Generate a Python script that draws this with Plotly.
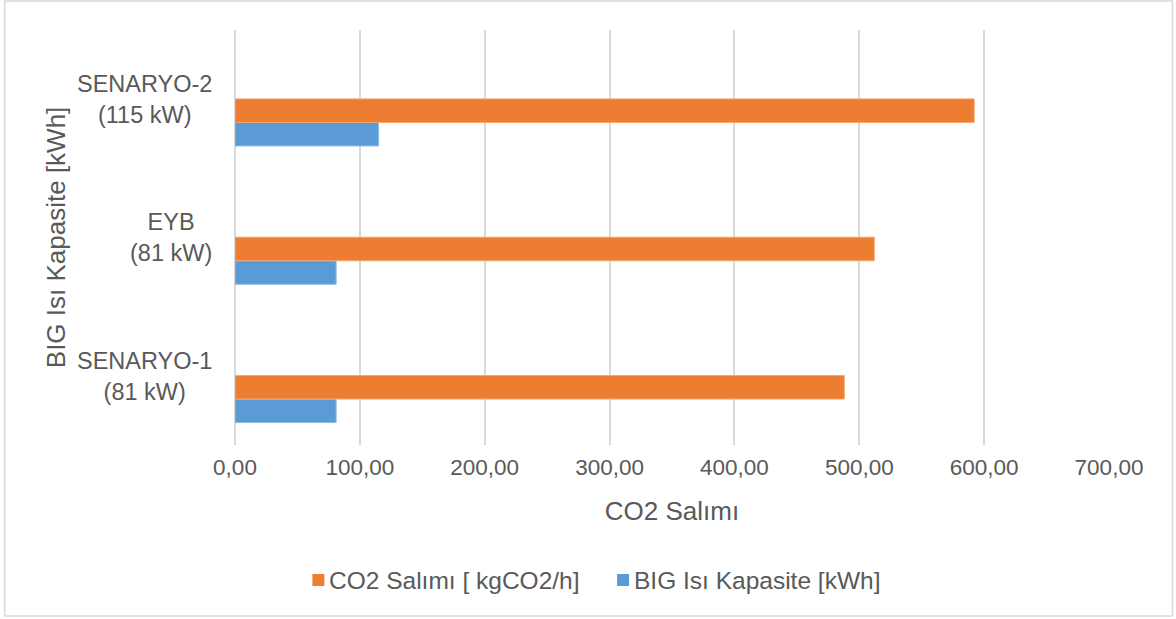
import plotly.graph_objects as go

# Scenario names (bottom to top) and their heat-pump capacity labels
categories = ["SENARYO-1", "EYB", "SENARYO-2"]
capacity_labels = ["(81 kW)", "(81 kW)", "(115 kW)"]

# Series values
series_names = ["CO2 Salımı [ kgCO2/h]", "BIG Isı Kapasite [kWh]"]
co2_emission = [488, 512, 592]        # CO2 Salımı [kgCO2/h]
big_capacity = [81, 81, 115]          # BIG Isı Kapasite [kWh]

x_ticks = [0, 100, 200, 300, 400, 500, 600, 700]

W, H = 1176, 619
L, R, T, B = 234.5, 66.5, 30, 174
pw, ph = W - L - R, H - T - B

FONT = "Arial, Liberation Sans, sans-serif"
TXT = "#595959"
GRID = "#d9d9d9"
ORANGE = "#ED7D31"
BLUE = "#5B9BD5"
LBL = 22.5
CAT = 23.5
TTL = 26
LEG = 24.5


def px(x):
    return (x - L) / pw


def py(y):
    return (H - B - y) / ph


fig = go.Figure()
fig.add_trace(go.Bar(
    y=categories, x=big_capacity, orientation="h",
    name=series_names[1], showlegend=False,
    marker=dict(color=BLUE, line=dict(color="#8db9e3", width=1)),
))
fig.add_trace(go.Bar(
    y=categories, x=co2_emission, orientation="h",
    name=series_names[0], showlegend=False,
    marker=dict(color=ORANGE, line=dict(color="#f3a671", width=1)),
))

# Two-line category labels, centred on each other
annotations = []
for cat, cap in zip(categories, capacity_labels):
    annotations.append(dict(
        x=px(213), xref="paper", y=cat, yref="y",
        text=f"{cat}<br>{cap}", showarrow=False,
        xanchor="right", yanchor="middle", align="center",
        yshift=23, font=dict(family=FONT, size=CAT, color=TXT),
    ))
# Vertical axis title
annotations.append(dict(
    x=px(55), xref="paper", y=0.5, yref="paper",
    text="BIG Isı Kapasite [kWh]", textangle=-90, showarrow=False,
    xanchor="center", yanchor="middle",
    font=dict(family=FONT, size=TTL, color=TXT),
))

# Legend row below the axis title: colour swatch followed by series name
shapes = []
legend_items = [(series_names[0], ORANGE, 312), (series_names[1], BLUE, 617)]
for name, color, x0 in legend_items:
    shapes.append(dict(
        type="rect", xref="paper", yref="paper",
        x0=px(x0), x1=px(x0 + 12), y0=py(586), y1=py(574),
        line=dict(width=0), fillcolor=color,
    ))
    annotations.append(dict(
        x=px(x0 + 15), xref="paper", y=py(580), yref="paper",
        text=name, showarrow=False, xanchor="left", yanchor="middle",
        font=dict(family=FONT, size=LEG, color=TXT),
    ))

# Outer chart border
shapes.append(dict(
    type="rect", xref="paper", yref="paper",
    x0=px(4), x1=px(1173), y0=py(616), y1=py(1),
    line=dict(color=GRID, width=1.5), fillcolor="rgba(0,0,0,0)", layer="below",
))

fig.update_layout(
    width=W, height=H,
    margin=dict(l=L, r=R, t=T, b=B),
    paper_bgcolor="white", plot_bgcolor="white",
    separators=",.",
    barmode="group", bargap=0.66, bargroupgap=0,
    showlegend=False,
    font=dict(family=FONT, size=LBL, color=TXT),
    xaxis=dict(
        range=[0, 700], tickvals=x_ticks, tickformat=".2f",
        showgrid=True, gridcolor=GRID, gridwidth=1.5,
        zeroline=True, zerolinecolor=GRID, zerolinewidth=1.5,
        showline=False, ticks="", ticklabelstandoff=6,
        tickfont=dict(family=FONT, size=LBL, color=TXT),
        title=dict(text="CO2 Salımı", font=dict(family=FONT, size=TTL, color=TXT), standoff=23),
    ),
    yaxis=dict(
        range=[-0.332, 2.668],
        showticklabels=False, showgrid=False, zeroline=False,
        showline=False, ticks="",
    ),
    annotations=annotations,
    shapes=shapes,
)

fig.write_html("out.html")
